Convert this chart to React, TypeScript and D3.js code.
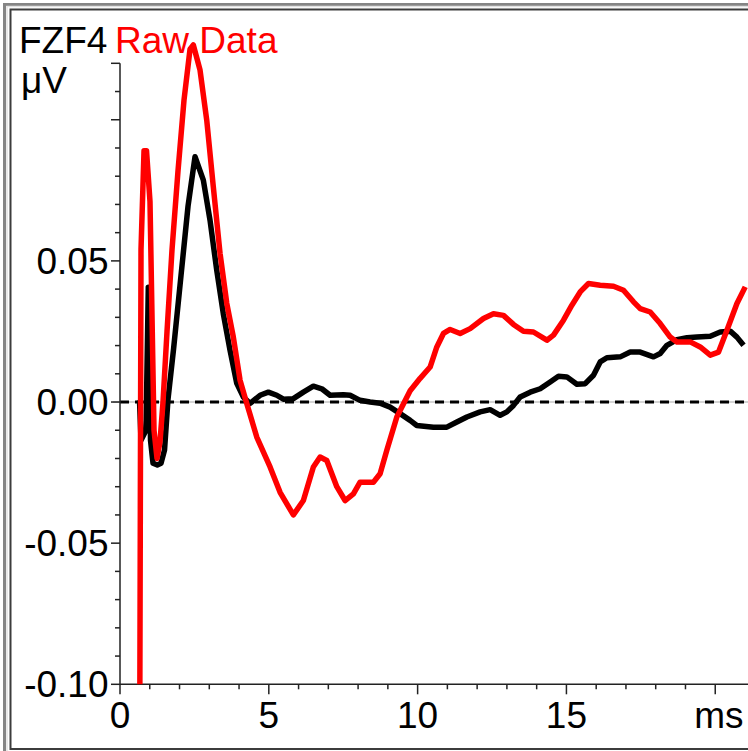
import React from "react";
import * as d3 from "d3";

// ---- data ----
const xTicksMajor = [0, 5, 10, 15];
const xTickLabels = ["0", "5", "10", "15"];
const yTicksMajor = [-0.1, -0.05, 0, 0.05];
const yTickLabels = ["-0.10", "-0.05", "0.00", "0.05"];

const blackTimes = [0.655, 0.706, 0.874, 0.951, 1.025, 1.109, 1.254, 1.378, 1.496, 1.613, 1.802, 2.05, 2.286, 2.521, 2.8, 3.025, 3.25, 3.471, 3.697, 3.923, 4.145, 4.37, 4.706, 4.985, 5.267, 5.489, 5.825, 6.161, 6.497, 6.78, 7.059, 7.506, 7.731, 8.067, 8.403, 8.739, 9.076, 9.412, 9.748, 9.973, 10.531, 10.981, 11.318, 11.654, 12.101, 12.437, 12.773, 12.998, 13.22, 13.445, 13.782, 14.118, 14.454, 14.733, 15.015, 15.351, 15.63, 15.909, 16.134, 16.359, 16.807, 17.143, 17.479, 17.926, 18.151, 18.376, 18.713, 19.049, 19.385, 19.832, 20.168, 20.504, 20.729, 20.951];
const blackValues = [0.0006, -0.0135, -0.01, 0.0407, -0.0135, -0.0217, -0.0223, -0.0217, -0.017, 0.001, 0.019, 0.0448, 0.0694, 0.0869, 0.0786, 0.0644, 0.0467, 0.0313, 0.0183, 0.0066, 0.0018, -0.0005, 0.0024, 0.0035, 0.0024, 0.001, 0.0012, 0.0035, 0.0056, 0.0047, 0.0024, 0.0026, 0.0024, 0.0006, 0.0, -0.0004, -0.0018, -0.0041, -0.0065, -0.0083, -0.0089, -0.0089, -0.0071, -0.0053, -0.0035, -0.0027, -0.0047, -0.0035, -0.0012, 0.0018, 0.0035, 0.0047, 0.0071, 0.0091, 0.0089, 0.0063, 0.0065, 0.0095, 0.0142, 0.0157, 0.016, 0.0177, 0.0177, 0.016, 0.0172, 0.0201, 0.0221, 0.0228, 0.023, 0.0233, 0.0248, 0.0251, 0.023, 0.0201];

const redTimes = [0.66, 0.706, 0.807, 0.891, 1.008, 1.143, 1.244, 1.345, 1.445, 1.58, 1.748, 1.95, 2.151, 2.353, 2.464, 2.689, 2.914, 3.136, 3.361, 3.587, 3.808, 4.034, 4.259, 4.595, 5.042, 5.378, 5.825, 6.161, 6.497, 6.723, 6.948, 7.284, 7.563, 7.842, 8.067, 8.514, 8.739, 8.965, 9.301, 9.748, 10.084, 10.42, 10.645, 10.867, 11.092, 11.429, 11.765, 12.212, 12.548, 12.884, 13.22, 13.556, 13.892, 14.343, 14.565, 14.901, 15.183, 15.462, 15.741, 16.134, 16.582, 16.918, 17.254, 17.479, 17.815, 18.151, 18.487, 18.713, 19.16, 19.496, 19.832, 20.111, 20.393, 20.729, 21.008];
const redValues = [-0.13, 0.054, 0.089, 0.089, 0.071, -0.01, -0.02, -0.014, 0.0, 0.025, 0.054, 0.082, 0.107, 0.125, 0.1265, 0.1176, 0.0999, 0.0762, 0.0527, 0.035, 0.023, 0.0077, -0.0005, -0.0124, -0.023, -0.032, -0.04, -0.0349, -0.023, -0.0195, -0.0207, -0.03, -0.0349, -0.0325, -0.0284, -0.0284, -0.0254, -0.0171, -0.0053, 0.004, 0.0084, 0.0124, 0.0195, 0.0243, 0.0257, 0.0243, 0.026, 0.0296, 0.0313, 0.0307, 0.0275, 0.0251, 0.0248, 0.0219, 0.0237, 0.029, 0.0343, 0.039, 0.042, 0.0414, 0.041, 0.0396, 0.0355, 0.0331, 0.0319, 0.0278, 0.023, 0.0213, 0.0213, 0.0195, 0.0166, 0.0177, 0.0254, 0.0349, 0.0408];

const W = 748;
const H = 751;
const FONT = "'Liberation Sans', Arial, Helvetica, sans-serif";

export default function App() {
  const x = d3.scaleLinear().domain([0, 21]).range([120, 745]);
  const y = d3.scaleLinear().domain([-0.1, 0.12]).range([684.3, 63.3]);

  const line = d3
    .line<[number, number]>()
    .x((d) => x(d[0]))
    .y((d) => y(d[1]));

  const blackPts: [number, number][] = blackTimes.map((t, i) => [t, blackValues[i]]);
  const redPts: [number, number][] = redTimes.map((t, i) => [t, redValues[i]]);

  const xMinor = d3.range(0, 21, 1);
  const yMinor = d3.range(-10, 13, 1).map((k) => k / 100);

  const axisColor = "#222";

  return (
    <svg
      width={W}
      height={H}
      style={{ position: "absolute", left: 0, top: 0, background: "#fff" }}
      fontFamily={FONT}
    >
      <defs>
        <clipPath id="plotClip">
          <rect x={118} y={0} width={W} height={684.3} />
        </clipPath>
      </defs>
      <rect x={0} y={0} width={W} height={H} fill="#fff" />

      {/* frame */}
      <rect x={4.5} y={4.5} width={900} height={900} fill="none" stroke="#858585" strokeWidth={3} />
      <rect x={7} y={6.5} width={900} height={900} fill="none" stroke="#e2e2e2" strokeWidth={1.5} />
      <rect x={10.5} y={9.5} width={900} height={739.5} fill="none" stroke="#3c3c3c" strokeWidth={2} />

      {/* zero line */}
      <line x1={113} x2={W} y1={y(0)} y2={y(0)} stroke="#d4d4d4" strokeWidth={2} />
      <line x1={120} x2={W} y1={y(0)} y2={y(0)} stroke="#000" strokeWidth={3} strokeDasharray="9 6" />

      {/* axes */}
      <line x1={120} x2={120} y1={63.3} y2={684.3} stroke={axisColor} strokeWidth={1.5} />
      <line x1={120} x2={W} y1={684.3} y2={684.3} stroke={axisColor} strokeWidth={1.5} />

      {yMinor.map((v, i) => {
        const major = Math.abs(Math.round(v * 100) % 5) === 0 || i === yMinor.length - 1;
        return (
          <line
            key={"yt" + i}
            x1={120 - (major ? 9 : 5)}
            x2={120}
            y1={y(v)}
            y2={y(v)}
            stroke={axisColor}
            strokeWidth={1.5}
          />
        );
      })}
      {xMinor.map((t, i) => {
        const major = t % 5 === 0;
        return (
          <line
            key={"xt" + i}
            x1={x(t)}
            x2={x(t)}
            y1={684.3}
            y2={684.3 + (major ? 10 : 5)}
            stroke={axisColor}
            strokeWidth={1.5}
          />
        );
      })}

      {yTicksMajor.map((v, i) => (
        <text key={"yl" + i} x={108.5} y={y(v) + 13} fontSize={37} textAnchor="end" fill="#000">
          {yTickLabels[i]}
        </text>
      ))}
      {xTicksMajor.map((t, i) => (
        <text key={"xl" + i} x={x(t)} y={728} fontSize={37} textAnchor="middle" fill="#000">
          {xTickLabels[i]}
        </text>
      ))}
      <text x={743.5} y={728} fontSize={37} textAnchor="end" fill="#000">ms</text>

      {/* series */}
      <g clipPath="url(#plotClip)">
        <path d={line(blackPts) || ""} fill="none" stroke="#000" strokeWidth={5.5} strokeLinejoin="round" />
        <path d={line(redPts) || ""} fill="none" stroke="#ff0000" strokeWidth={5.5} strokeLinejoin="round" />
      </g>

      {/* titles */}
      <text x={19} y={52.7} fontSize={37} fill="#000">FZF4</text>
      <text x={115} y={52.7} fontSize={37} fill="#ff0000">Raw Data</text>
      <text x={21} y={93} fontSize={37} fill="#000">μV</text>
    </svg>
  );
}
